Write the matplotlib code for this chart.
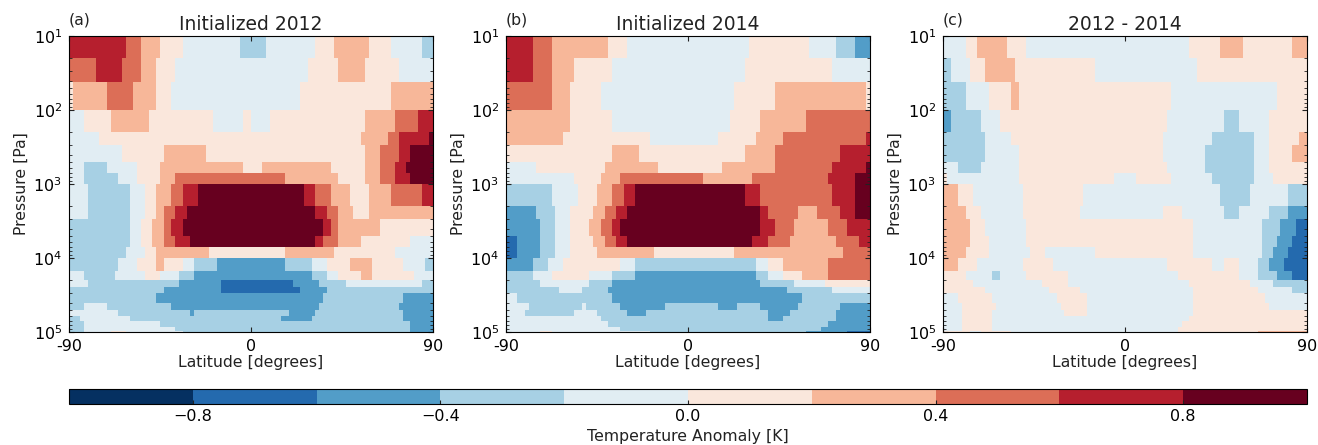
import numpy as np
import matplotlib
matplotlib.use('Agg')
import matplotlib.pyplot as plt
from matplotlib import cm
from matplotlib.colors import ListedColormap, BoundaryNorm
from matplotlib.colorbar import ColorbarBase

# pressure level edges [Pa], top to bottom
pressure_edges = [10, 20, 42, 100, 200, 300, 500, 700, 1000, 2000, 3000, 5000, 7000, 10000,
                  15000, 20000, 25000, 30000, 40000, 50000, 60000, 70000, 85000, 97000, 100000]

# each row: (anomaly in tenths of K, latitude where that block ends)
init_2012 = [
    [(7,-62),(5,-54),(3,-45),(1,-34),(-1,-5),(-3,8),(-1,31),(1,42),(3,59),(1,69),(-1,85),(-3,90)],
    [(5,-77),(7,-64),(5,-54),(3,-47),(1,-37.5),(-1,29),(1,44),(3,57),(1,73),(-1,90)],
    [(1,-88.5),(3,-71.5),(5,-58.5),(3,-47),(1,-39),(-1,25),(1,69),(3,90)],
    [(-1,-83),(1,-70),(3,-50.5),(1,-18.5),(-1,-3),(1,0.5),(-1,10),(1,57),(3,70.5),(5,82),(7,90)],
    [(-1,-75),(1,55),(3,67),(5,74),(7,87.5),(9,90)],
    [(-1,-64),(1,-43),(3,-22),(1,57),(3,64.5),(5,72.5),(7,78),(9,90)],
    [(-1,-83),(-3,-71.5),(-1,-56.5),(1,-45),(3,-3),(1,6),(3,40),(1,57),(3,64.5),(5,70.5),(7,76),(9,90)],
    [(-1,-83),(-3,-66),(-1,-56.5),(1,-45),(3,-37.5),(5,17.5),(3,44),(1,57),(3,64.5),(5,70.5),(7,78),(9,90)],
    [(-1,-81),(-3,-60),(-1,-52.5),(1,-46.5),(3,-39),(5,-34),(7,-26),(9,27),(7,32.5),(5,40),(3,48),(1,59),(3,69),(5,84),(7,90)],
    [(-1,-81),(-3,-60),(-1,-52.5),(1,-46.5),(3,-43),(5,-37.5),(7,-32),(9,32.5),(7,38),(5,42.5),(3,51.5),(1,59),(3,90)],
    [(-3,-60),(-1,-54),(1,-48.5),(3,-43),(5,-39),(7,-34),(9,36),(7,40),(5,44),(3,64.5),(1,90)],
    [(-3,-60),(-1,-54),(1,-48.5),(3,-43),(5,-37.5),(7,-30),(9,32.5),(7,36),(5,44),(3,55),(1,78),(-1,90)],
    [(-3,-62),(-1,-52.5),(1,-46.5),(3,-20),(1,17.5),(3,42),(1,70.5),(-1,90)],
    [(-3,-66),(-1,-56.5),(1,-46.5),(3,-43),(1,-34),(-1,-28),(-3,-16.5),(-5,17.5),(-3,30.5),(-1,38),(1,48),(3,60.5),(1,74.5),(-1,85.5),(-3,90)],
    [(-1,-83),(-3,-68),(-1,-52.5),(1,-45),(-1,-35.5),(-3,-28),(-5,30.5),(-3,38),(-1,44),(1,53.5),(3,60.5),(1,80),(-1,90)],
    [(-1,-81),(-3,-35.5),(-5,-15),(-7,21.5),(-5,34.5),(-3,46),(-1,84),(-3,90)],
    [(-3,-43),(-5,-15),(-7,23.5),(-5,38),(-3,90)],
    [(-3,-46.5),(-5,36),(-3,74.5),(-5,90)],
    [(-3,-83),(-1,-71.5),(-3,-39),(-5,34.5),(-3,73),(-5,90)],
    [(-1,-66),(-3,-30),(-5,-28),(-3,19.5),(-5,32.5),(-3,74.5),(-5,90)],
    [(-3,-85),(-1,-60),(-3,15.5),(-5,30.5),(-3,74.5),(-5,90)],
    [(-3,-83),(-1,-45),(-3,78),(-5,90)],
    [(-3,-83),(-1,-37.5),(-3,78),(-5,90)],
    [(-3,-83),(-1,-70),(1,-62),(-1,-34),(-3,78),(-5,90)],
]

init_2014 = [
    [(7,-77),(5,-68),(3,-39.5),(1,-29.5),(-1,30.5),(1,59.5),(-1,72.5),(-3,82),(-5,90)],
    [(7,-77),(5,-68),(3,-56.5),(1,-38),(-1,29),(1,71),(-1,90)],
    [(5,-68),(3,-58.5),(1,-43),(-1,23),(1,42.5),(3,88),(1,90)],
    [(3,-58.5),(1,-38),(-1,21.5),(1,36.5),(3,57.5),(5,90)],
    [(3,-62),(1,-18.5),(-1,15.5),(1,33),(3,46),(5,88),(7,90)],
    [(1,-37.5),(3,-24),(1,29),(3,42.5),(5,74.5),(7,90)],
    [(-1,-75),(1,-41),(3,-15),(1,17.5),(3,42.5),(5,70.5),(7,88),(9,90)],
    [(-1,-56.5),(1,-43),(3,-34),(5,8),(3,31),(5,69),(7,82),(9,90)],
    [(-3,-68),(-1,-54.5),(1,-45.5),(3,-37.5),(5,-32),(7,-26),(9,29),(7,36.5),(5,70.5),(7,82),(9,90)],
    [(-5,-75),(-3,-66),(-1,-58.5),(1,-47),(3,-41),(5,-36),(7,-30),(9,35),(7,40),(5,54),(3,63),(5,74.5),(7,82),(9,90)],
    [(-5,-73),(-3,-66),(-1,-58.5),(1,-48.5),(3,-43),(5,-37.5),(7,-34),(9,36.5),(7,44),(5,52),(3,69),(5,78.5),(7,90)],
    [(-7,-85),(-5,-73),(-3,-66),(-1,-58.5),(1,-47),(3,-41),(5,-36),(7,-30),(9,31),(7,40),(5,50),(3,72.5),(5,84),(7,90)],
    [(-7,-85),(-5,-73),(-3,-66),(-1,-58.5),(1,-45),(3,-17),(1,23),(3,76),(5,90)],
    [(-5,-77),(-3,-70),(-1,-62),(1,-34),(-1,-26),(-3,33),(-1,40),(1,46),(3,69),(5,90)],
    [(-3,-77),(-1,-68),(1,-48.5),(-1,-37.5),(-3,-26),(-5,33),(-3,40),(-1,46),(1,55.5),(3,69),(5,90)],
    [(-3,-73),(-1,-48.5),(-3,-37.5),(-5,36.5),(-3,52),(-1,67),(1,90)],
    [(-3,-64),(-1,-52.5),(-3,-39.5),(-5,48),(-3,70.5),(-1,90)],
    [(-1,-85),(-3,-37.5),(-5,55.5),(-3,90)],
    [(-1,-79),(-3,-52),(-1,-50.5),(-3,-34),(-5,-11),(-3,15.5),(-5,25),(-3,35),(-5,54),(-3,74.5),(-5,90)],
    [(-1,-81),(-3,-56.5),(-1,-45),(-3,-30),(-5,-20.5),(-3,38.5),(-5,50),(-3,72.5),(-5,90)],
    [(-1,-43),(-3,38.5),(-5,46),(-3,72.5),(-5,90)],
    [(-1,-39.5),(-3,69),(-5,90)],
    [(-1,-33),(-3,65),(-5,90)],
    [(-1,-73),(1,-68),(-1,-18.5),(-3,58),(-5,78.5),(-7,90)],
]

diff_2012_2014 = [
    [(-1,-79),(1,-73),(3,-58.5),(1,-49),(-1,31),(1,46),(3,59),(1,82),(3,90)],
    [(-3,-87),(-1,-77),(1,-70),(3,-54.5),(1,-14.5),(-1,36.5),(1,90)],
    [(-3,-79),(-1,-68),(1,-56.5),(3,-52.5),(1,23),(-1,74.5),(1,90)],
    [(-5,-87),(-3,-71.5),(-1,-62.5),(1,21.5),(-1,49.5),(-3,57),(-1,70.5),(1,90)],
    [(-3,-70),(-1,-56.5),(1,19.5),(-1,42.5),(-3,63),(-1,70.5),(1,85.5),(3,90)],
    [(-3,-70),(-1,-52.5),(1,19.5),(-1,40),(-3,63),(-1,70.5),(1,82),(3,90)],
    [(-1,-83),(-3,-71.5),(-1,-52.5),(1,21.5),(-1,40),(-3,63),(-1,70.5),(1,90)],
    [(1,-87.5),(-1,-52.5),(1,-5),(-1,6),(1,23),(-1,42.5),(-3,63),(-1,72.5),(1,90)],
    [(3,-83),(1,-75),(-1,-51),(1,-20.5),(-1,46),(-3,61),(-1,80),(-3,90)],
    [(3,-79),(1,-71.5),(-1,-51),(1,-22.5),(-1,19.5),(1,29),(-1,49.5),(-3,55.5),(-1,70.5),(-3,80),(-5,90)],
    [(3,-77),(1,-70),(-1,-49),(1,33),(-1,67),(-3,76.5),(-5,84),(-7,90)],
    [(3,-77),(1,-68),(-1,-49),(1,33),(-1,67),(-3,74.5),(-5,82),(-7,90)],
    [(3,-79),(1,-68),(-1,-47),(1,-39.5),(-1,-14.5),(1,33),(-1,67),(-3,72.5),(-5,80),(-7,90)],
    [(3,-83),(1,-73),(-1,-51),(1,-35.5),(-1,21.5),(1,42.5),(-1,49.5),(1,55.5),(-1,65),(-3,70.5),(-5,78),(-7,90)],
    [(1,-79),(-1,-66),(-3,-62.5),(-1,-49),(1,-28),(-1,25.5),(1,57),(-1,65),(-3,74.5),(-5,82),(-7,90)],
    [(1,-75),(-1,-41.5),(1,-28),(-1,31),(1,61),(-1,72.5),(-3,90)],
    [(1,-69.5),(-1,-37),(1,-22.5),(-1,34.5),(1,65),(-1,82),(-3,90)],
    [(-1,-83),(1,-66),(-1,-33.5),(1,-18.5),(-1,34.5),(1,69),(-1,90)],
    [(-1,-81),(1,-64),(-1,-32),(1,-18.5),(-1,34.5),(1,70.5),(-1,90)],
    [(-1,-81),(1,-66),(-1,-29.5),(1,-18.5),(-1,33),(1,90)],
    [(-1,-81),(1,-66),(-1,31),(1,90)],
    [(-1,-81),(1,-66),(-1,29),(1,90)],
    [(-1,-81),(1,-66),(-1,25.5),(1,90)],
    [(1,-77),(-1,-71.5),(1,-57),(-1,25.5),(1,65),(3,90)],
]

panels = [init_2012, init_2014, diff_2012_2014]
titles = ['Initialized 2012', 'Initialized 2014', '2012 - 2014']
letters = ['(a)', '(b)', '(c)']
lefts = [69, 506, 943]

lat_edges = np.linspace(-90, 90, 97)
lat_centers = 0.5 * (lat_edges[:-1] + lat_edges[1:])
levels = np.linspace(-1, 1, 11)


def to_grid(rows):
    z = np.zeros((len(rows), lat_centers.size))
    for i, row in enumerate(rows):
        vals = np.array([r[0] for r in row]) / 10.0
        ends = np.array([r[1] for r in row])
        z[i] = vals[np.minimum(np.searchsorted(ends, lat_centers), len(vals) - 1)]
    return z


W, H = 1318.0, 445.0
cmap = ListedColormap(cm.RdBu_r(np.linspace(0, 1, 10)))
norm = BoundaryNorm(levels, cmap.N)

fig = plt.figure(figsize=(W / 100, H / 100), dpi=100)
for rows, title, letter, left in zip(panels, titles, letters, lefts):
    ax = fig.add_axes([left / W, 1 - 332 / H, 364 / W, 296 / H])
    ax.pcolormesh(lat_edges, pressure_edges, to_grid(rows), cmap=cmap, norm=norm)
    ax.set_yscale('log')
    ax.set_ylim(1e5, 1e1)
    ax.set_xlim(-90, 90)
    ax.set_xticks([-90, 0, 90])
    ax.set_xticklabels(['-90', '0', '90'])
    ax.tick_params(which='both', direction='in', top=True, right=True, labelsize=11.5, color='#222222')
    ax.tick_params(which='major', length=3.5, pad=5)
    ax.tick_params(which='minor', length=2)
    ax.set_xlabel('Latitude [degrees]', fontsize=11.3, labelpad=1, color='#222222')
    ax.set_ylabel('Pressure [Pa]', fontsize=11.3, labelpad=3, color='#222222')
    ax.set_title(title, fontsize=13.5, pad=4, color='#222222')
    ax.text(0, 1.04, letter, transform=ax.transAxes, fontsize=11.3, color='#222222')

cax = fig.add_axes([69 / W, 1 - 404 / H, 1238 / W, 15 / H])
cb = ColorbarBase(cax, cmap=cmap, norm=norm, orientation='horizontal', ticks=[-0.8, -0.4, 0.0, 0.4, 0.8])
cb.ax.minorticks_off()
cb.ax.tick_params(direction='in', length=3, labelsize=11.5, pad=3.5, color='#222222')
cb.set_label('Temperature Anomaly [K]', fontsize=11.3, labelpad=3.5, color='#222222')

fig.savefig('out.png', dpi=100)
